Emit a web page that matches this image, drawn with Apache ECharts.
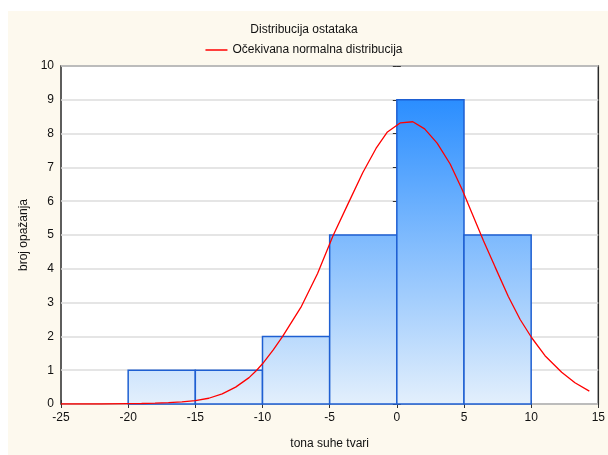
<!DOCTYPE html>
<html>
<head>
<meta charset="utf-8">
<script src="https://cdn.jsdelivr.net/npm/echarts@6/dist/echarts.min.js"></script>
<style>html,body{margin:0;padding:0;background:#fff}#c{width:608px;height:455px}</style>
</head>
<body>
<div id="c"></div>
<script>
var titleText = 'Distribucija ostataka';
var legendText = 'Očekivana normalna distribucija';
var xName = 'tona suhe tvari';
var yName = 'broj opažanja';

var binStart = [-20, -15, -10, -5, 0, 5];
var binWidth = 5;
var counts = [1, 1, 2, 5, 9, 5];

var curveX = [-25, -22, -20, -19, -18, -17, -16, -15, -14, -13, -12, -11, -10.45, -10, -9.2, -8.5, -7.1, -5.9, -4.75, -3.6, -2.53, -1.55, -0.7, 0.27, 1.19, 2.07, 3.0, 3.97, 4.87, 5.58, 6.45, 7.32, 8.3, 9.18, 10.04, 11.03, 12.27, 13.26, 14.33];
var curveY = [0, 0, 0.01, 0.015, 0.025, 0.04, 0.065, 0.10, 0.17, 0.30, 0.50, 0.78, 0.99, 1.19, 1.6, 2.0, 2.89, 3.86, 4.98, 5.95, 6.85, 7.56, 8.05, 8.32, 8.35, 8.14, 7.72, 7.10, 6.34, 5.66, 4.83, 4.05, 3.18, 2.50, 1.96, 1.43, 0.94, 0.63, 0.38];

var xMin = -25, xMax = 15, xStep = 5;
var yMin = 0, yMax = 10, yStep = 1;

var font = '"Liberation Sans", Arial, sans-serif';
var chart = echarts.init(document.getElementById('c'), null, {renderer: 'canvas'});

var barData = binStart.map(function (s, i) { return [s, s + binWidth, counts[i]]; });
var curveData = curveX.map(function (x, i) { return [x, curveY[i]]; });

var gridTop = 66, gridBottom = 46;
var barFill = new echarts.graphic.LinearGradient(0, gridTop, 0, 455 - gridBottom, [
  {offset: 0, color: '#1683FF'},
  {offset: 1, color: '#E6F1FC'}
], true);

var tickStyle = {show: true, inside: true, length: 4, lineStyle: {color: '#333', width: 1}};

chart.setOption({
  animation: false,
  backgroundColor: '#ffffff',
  graphic: [{
    type: 'rect', z: -10, silent: true,
    shape: {x: 8, y: 11, width: 600, height: 444},
    style: {fill: '#FDF9EE'}
  }],
  title: {
    text: titleText, left: 'center', top: 24, padding: 0,
    textStyle: {fontFamily: font, fontSize: 12, fontWeight: 'normal', color: '#111'}
  },
  legend: {
    data: [legendText], top: 44, left: 'center', padding: 0,
    icon: 'rect', itemWidth: 22, itemHeight: 1.5, itemGap: 5,
    textStyle: {fontFamily: font, fontSize: 12, color: '#111'}
  },
  grid: {
    left: 61, right: 9, top: gridTop, bottom: gridBottom,
    show: true, backgroundColor: '#ffffff', borderColor: '#2a2a2a', borderWidth: 1.5
  },
  xAxis: [{
    type: 'value', min: xMin, max: xMax, interval: xStep, position: 'bottom',
    name: xName, nameLocation: 'middle', nameGap: 34,
    nameTextStyle: {fontFamily: font, fontSize: 12, color: '#111'},
    axisLine: {show: false}, axisTick: tickStyle,
    axisLabel: {fontFamily: font, fontSize: 12, color: '#111', margin: 8},
    splitLine: {show: false}
  }, {
    type: 'value', min: xMin, max: xMax, interval: xStep, position: 'top',
    axisLine: {show: false}, axisTick: tickStyle, axisLabel: {show: false}, splitLine: {show: false}
  }],
  yAxis: [{
    type: 'value', min: yMin, max: yMax, interval: yStep, position: 'left',
    name: yName, nameLocation: 'middle', nameGap: 30,
    nameTextStyle: {fontFamily: font, fontSize: 12, color: '#111'},
    axisLine: {show: false}, axisTick: tickStyle,
    axisLabel: {fontFamily: font, fontSize: 12, color: '#111', margin: 7},
    splitLine: {show: true, lineStyle: {color: '#dcdcdc', width: 1.5}}
  }, {
    type: 'value', min: yMin, max: yMax, interval: yStep, position: 'right',
    axisLine: {show: false}, axisTick: tickStyle, axisLabel: {show: false}, splitLine: {show: false}
  }],
  series: [{
    type: 'custom', name: 'hist', z: 2,
    data: barData,
    renderItem: function (params, api) {
      var p0 = api.coord([api.value(0), api.value(2)]);
      var p1 = api.coord([api.value(1), 0]);
      return {
        type: 'rect',
        shape: {x: p0[0], y: p0[1], width: p1[0] - p0[0], height: p1[1] - p0[1]},
        style: {fill: barFill, stroke: '#1E5FD2', lineWidth: 1.5}
      };
    }
  }, {
    type: 'line', name: legendText, z: 3,
    data: curveData, symbol: 'none', smooth: false,
    lineStyle: {color: '#FF0000', width: 1.3},
    itemStyle: {color: '#FF0000'}
  }]
});
</script>
</body>
</html>
